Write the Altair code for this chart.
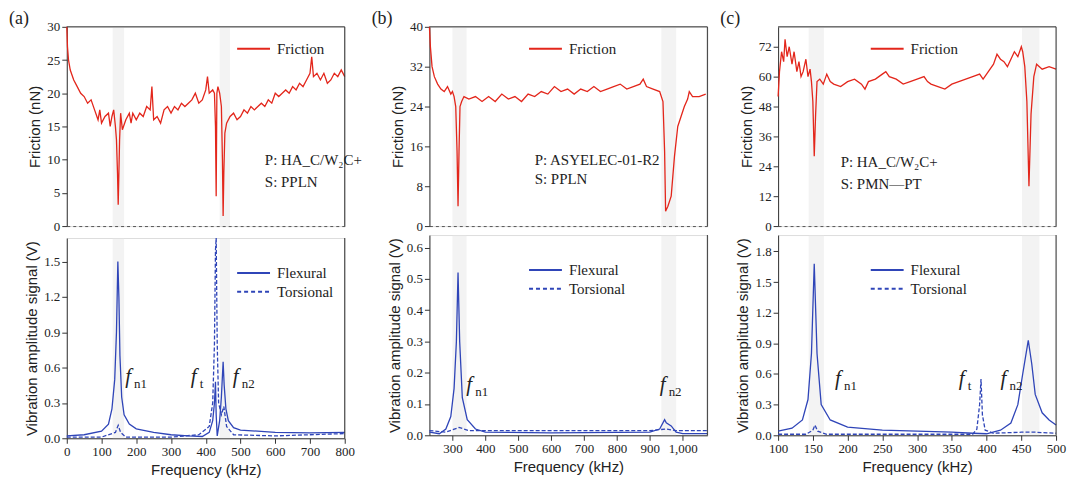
import altair as alt
import pandas as pd

RED = "#e3261b"
BLUE = "#2f45b8"
SERIF = "Liberation Serif"
SANS = "Liberation Sans"
W, HT, HB = 279, 200, 201

# ---- panel (a) ----
a_fx = [0, 2, 5, 10, 20, 30, 40, 50, 60, 70, 80, 90, 95, 100, 110, 120, 125, 130, 135, 140, 143, 146, 148, 150, 152, 155,
        160, 170, 180, 185, 190, 200, 210, 220, 230, 240, 245, 250, 260, 270, 280, 290, 300, 310, 320, 330, 340, 350, 360,
        370, 380, 390, 400, 405, 410, 420, 425, 428, 430, 432, 435, 440, 445, 448, 450, 452, 455, 460, 470, 480, 490, 500,
        510, 520, 530, 540, 550, 560, 570, 580, 590, 600, 610, 620, 630, 640, 650, 660, 670, 680, 690, 700, 705, 710, 720,
        730, 740, 750, 760, 770, 780, 790, 800]
a_fy = [30, 27, 25, 23.5, 22, 21, 20, 19.5, 18.5, 19, 17.5, 16, 17.5, 15.5, 16.5, 17, 15, 16.5, 17.5, 15, 13, 8, 3.2, 8, 13, 17,
        14.5, 16, 17, 15.5, 17, 16, 17, 16.5, 18, 17.5, 21, 16, 16.5, 15.5, 17.5, 18, 17, 18, 17.5, 18.5, 18, 18.5, 19,
        20, 18.5, 19, 20.5, 22.5, 20, 20.5, 20, 15, 4.5, 20, 21, 20, 18, 10, 1.5, 8, 14, 15.5, 16.5, 17, 16, 16.5,
        17.5, 17, 18, 17.5, 18, 18.5, 18, 19, 18.5, 20, 19.5, 20, 20.5, 20, 21, 20.5, 21.5, 21, 22, 23, 25.5, 22.5, 23,
        22, 23, 21.5, 22, 23, 22.5, 23.5, 22.5]
a_flx = [0, 50, 100, 120, 130, 138, 143, 147, 150, 153, 158, 165, 180, 200, 250, 300, 350, 390, 410, 420, 425, 428, 430, 433,
         440, 445, 450, 453, 458, 465, 480, 500, 600, 700, 800]
a_fly = [0.02, 0.03, 0.06, 0.12, 0.25, 0.5, 0.9, 1.5, 1.2, 0.7, 0.35, 0.2, 0.12, 0.08, 0.05, 0.03, 0.02, 0.015, 0.05, 0.15,
         0.3, 0.48, 0.2, 0.02, 0.15, 0.35, 0.65, 0.45, 0.25, 0.15, 0.09, 0.07, 0.05, 0.045, 0.05]
a_tox = [0, 100, 140, 148, 155, 170, 300, 380, 410, 420, 425, 428, 430, 433, 437, 445, 452, 460, 480, 600, 800]
a_toy = [0.01, 0.01, 0.05, 0.11, 0.05, 0.01, 0.01, 0.03, 0.1, 0.3, 0.8, 1.6, 1.7, 0.8, 0.3, 0.2, 0.27, 0.1, 0.03, 0.02, 0.04]
a_bands = [(132, 165), (440, 470)]

# ---- panel (b) ----
b_fx = [230, 233, 238, 245, 255, 265, 275, 285, 295, 300, 305, 310, 314, 317, 320, 323, 328, 335, 350, 370, 390, 410, 430,
        450, 470, 490, 510, 530, 550, 570, 590, 610, 630, 650, 670, 690, 710, 730, 750, 770, 790, 810, 830, 850, 870, 880,
        890, 910, 930, 940, 945, 948, 955, 965, 975, 985, 995, 1005, 1015, 1020, 1030, 1050, 1070]
b_fy = [40, 36, 32, 30, 28.5, 27.5, 27, 28, 26.5, 27, 26, 24, 15, 4, 15, 24, 25, 26, 25.5, 26, 25, 26, 25,
        26.5, 25.5, 26, 25, 26.5, 26, 27, 26.5, 28, 27, 27.5, 26.5, 27.5, 27, 28, 27, 27.5, 28, 28.5, 27.5, 28, 28.5, 29.5,
        28, 27.5, 27, 25, 15, 3, 4, 6, 14, 20, 22, 24, 25.5, 27, 26, 26, 26.5]
b_flx = [230, 260, 280, 295, 305, 312, 317, 322, 330, 345, 370, 400, 600, 900, 930, 945, 950, 965, 980, 1000, 1075]
b_fly = [0.01, 0.005, 0.02, 0.06, 0.15, 0.3, 0.52, 0.3, 0.12, 0.05, 0.02, 0.01, 0.008, 0.01, 0.02, 0.05, 0.04, 0.03, 0.01,
         0.005, 0.005]
b_tox = [230, 280, 320, 350, 600, 900, 950, 980, 1075]
b_toy = [0.015, 0.01, 0.025, 0.015, 0.015, 0.015, 0.02, 0.015, 0.015]
b_bands = [(300, 343), (935, 980)]

# ---- panel (c) ----
c_fx = [100, 102, 105, 108, 110, 113, 116, 120, 123, 127, 130, 133, 136, 140, 143, 146, 148, 150, 152, 154, 156, 160, 165,
        170, 175, 180, 190, 200, 210, 220, 225, 230, 240, 250, 255, 260, 270, 280, 290, 300, 310, 315, 320, 330, 340, 350,
        360, 370, 380, 390, 395, 400, 410, 415, 420, 425, 430, 435, 440, 445, 450, 452, 455, 458, 461, 464, 468, 472, 480,
        490, 500]
c_fy = [52, 62, 70, 66, 75, 68, 72, 65, 70, 62, 66, 60, 62, 67, 60, 63, 58, 50, 28, 45, 58, 59, 57,
        61, 58, 57, 56, 58, 59, 57, 55, 58, 59, 61, 62, 60, 59, 57, 58, 59, 60, 58, 57, 56, 55, 57,
        58, 59, 60, 61, 59, 61, 65, 69, 67, 66, 64, 67, 70, 68, 72, 70, 64, 50, 16, 45, 60, 65, 63,
        64, 63]
c_flx = [100, 120, 135, 143, 148, 152, 156, 162, 175, 200, 250, 300, 350, 380, 400, 420, 435, 445, 452, 460, 465, 470, 480,
         490, 500]
c_fly = [0.04, 0.07, 0.15, 0.35, 0.8, 1.68, 0.8, 0.3, 0.15, 0.08, 0.05, 0.04, 0.03, 0.02, 0.015, 0.05, 0.12, 0.3, 0.6, 0.93,
         0.7, 0.4, 0.22, 0.15, 0.1]
c_tox = [100, 140, 150, 153, 157, 170, 380, 386, 390, 392, 394, 398, 410, 450, 470, 500]
c_toy = [0.01, 0.01, 0.05, 0.1, 0.04, 0.01, 0.01, 0.06, 0.3, 0.55, 0.2, 0.05, 0.02, 0.03, 0.03, 0.02]
c_bands = [(144, 166), (451, 476)]


def panel(label, xdom, xticks, xfmt, fdom, fticks, fx, fy, vdom, vticks, flx, fly, tox, toy, bands,
          ps, ps_x, ps_y, notes, leg_x):
    one = pd.DataFrame({"a": [0]})
    bdf = pd.DataFrame({"x": [b[0] for b in bands], "x2": [b[1] for b in bands]})
    xsc = alt.Scale(domain=xdom, nice=False, zero=False)
    common = dict(labelFont=SERIF, labelFontSize=13, titleFont=SANS, titleFontSize=15, titleFontWeight="normal",
                  domainColor="#333", tickColor="#333", labelColor="#222", titleColor="#222", grid=False,
                  labelOverlap=False)
    # top panel axes
    tX = alt.X("x:Q", scale=xsc, axis=alt.Axis(labels=False, ticks=False, title=None, domainDash=[3, 3],
                                               domainColor="#555", grid=False))
    tY = alt.Y("y:Q", scale=alt.Scale(domain=fdom, nice=False),
               axis=alt.Axis(values=fticks, title="Friction (nN)", titlePadding=4, **common))
    # bottom panel axes
    bX = alt.X("x:Q", scale=xsc, axis=alt.Axis(values=xticks, format=xfmt, title="Frequency (kHz)",
                                               labelFlush=False, **common))
    bY = alt.Y("y:Q", scale=alt.Scale(domain=vdom, nice=False),
               axis=alt.Axis(values=vticks, title="Vibration amplitude signal (V)", titlePadding=4, **common))

    def band(X, h):
        return alt.Chart(bdf).mark_rect(color="#e4e4e4", opacity=0.45).encode(
            x=X, x2="x2:Q", y=alt.value(0), y2=alt.value(h))

    def right(h):
        return alt.Chart(one).mark_rule(color="#333").encode(x=alt.value(W), y=alt.value(0), y2=alt.value(h))

    fr = alt.Chart(pd.DataFrame({"x": fx, "y": fy})).mark_line(color=RED, strokeWidth=1.3).encode(x=tX, y=tY)
    topline = alt.Chart(one).mark_rule(color="#333").encode(x=alt.value(0), x2=alt.value(W), y=alt.value(0))
    leg = pd.DataFrame({"t": ["Friction"]})
    fleg = (alt.Chart(leg).mark_rule(color=RED, strokeWidth=2).encode(
                x=alt.value(leg_x), x2=alt.value(leg_x + 33), y=alt.value(22))
            + alt.Chart(leg).mark_text(font=SERIF, fontSize=15, align="left", color="#222").encode(
                x=alt.value(leg_x + 40), y=alt.value(22), text="t:N"))
    psdf = pd.DataFrame({"x": [ps_x, ps_x], "y": ps_y, "t": ps})
    pst = alt.Chart(psdf).mark_text(font=SERIF, fontSize=15, align="left", color="#222").encode(
        x=tX, y=tY, text="t:N")
    lab = alt.Chart(pd.DataFrame({"t": [label]})).mark_text(font=SERIF, fontSize=18, align="left",
                                                            color="#222").encode(
        x=alt.value(-58), y=alt.value(-8), text="t:N")
    top = alt.layer(band(tX, HT), fr, topline, right(HT), fleg, pst, lab).properties(width=W, height=HT)

    vl = alt.Chart(pd.DataFrame({"x": flx, "y": fly})).mark_line(color=BLUE, strokeWidth=1.3).encode(x=bX, y=bY)
    vt = alt.Chart(pd.DataFrame({"x": tox, "y": toy})).mark_line(
        color=BLUE, strokeWidth=1.3, strokeDash=[4, 2]).encode(x=bX, y=bY)
    lg2 = pd.DataFrame({"t": ["Flexural", "Torsional"], "y": [35, 54]})
    vleg = (alt.Chart(lg2.iloc[:1]).mark_rule(color=BLUE, strokeWidth=2).encode(
                x=alt.value(leg_x), x2=alt.value(leg_x + 33), y=alt.value(35))
            + alt.Chart(lg2.iloc[1:]).mark_rule(color=BLUE, strokeWidth=2, strokeDash=[4, 3]).encode(
                x=alt.value(leg_x), x2=alt.value(leg_x + 33), y=alt.value(54))
            + alt.Chart(lg2).mark_text(font=SERIF, fontSize=15, align="left", color="#222").encode(
                x=alt.value(leg_x + 40), y=alt.Y("y:Q", scale=None), text="t:N"))
    ndf = pd.DataFrame({"x": [n[0] for n in notes], "y": [n[1] for n in notes], "s": [n[2] for n in notes],
                        "f": ["f"] * len(notes)})
    nf = alt.Chart(ndf).mark_text(font=SERIF, fontSize=21, fontStyle="italic", align="left", color="#222").encode(
        x=bX, y=bY, text="f:N")
    ns = alt.Chart(ndf).mark_text(font=SERIF, fontSize=13, align="left", dx=9, dy=7, color="#222").encode(
        x=bX, y=bY, text="s:N")
    bot = alt.layer(band(bX, HB), vl, vt, right(HB), vleg, nf, ns).properties(width=W, height=HB)
    return alt.vconcat(top, bot, spacing=0)


pa = panel("(a)", [0, 800], list(range(0, 801, 100)), "d", [0, 30], [0, 5, 10, 15, 20, 25, 30],
           a_fx, a_fy, [0, 1.7], [0, 0.3, 0.6, 0.9, 1.2, 1.5], a_flx, a_fly, a_tox, a_toy, a_bands,
           ["P: HA_C/W₂C+", "S: PPLN"], 570, [9.9, 6.7],
           [(168, 0.52, "n1"), (357, 0.52, "t"), (478, 0.52, "n2")], 171)
pb = panel("(b)", [230, 1075], list(range(300, 1001, 100)), ",d", [0, 40], [0, 8, 16, 24, 32, 40],
           b_fx, b_fy, [0, 0.64], [0, 0.1, 0.2, 0.3, 0.4, 0.5, 0.6], b_flx, b_fly, b_tox, b_toy, b_bands,
           ["P: ASYELEC-01-R2", "S: PPLN"], 550, [13.2, 9.5],
           [(342, 0.16, "n1"), (930, 0.16, "n2")], 100)
pc = panel("(c)", [100, 500], list(range(100, 501, 50)), "d", [0, 80], [0, 12, 24, 36, 48, 60, 72],
           c_fx, c_fy, [0, 1.96], [0, 0.3, 0.6, 0.9, 1.2, 1.5, 1.8], c_flx, c_fly, c_tox, c_toy, c_bands,
           ["P: HA_C/W₂C+", "S: PMN—PT"], 190, [25.6, 17],
           [(182, 0.55, "n1"), (360, 0.55, "t"), (420, 0.55, "n2")], 93)

chart = (alt.hconcat(pa, pb, pc, spacing=8).configure_view(stroke=None)
         .configure(background="white", padding={"left": 0, "top": 0, "right": 5, "bottom": 5}))
chart.save("out.html", embed_options={"renderer": "svg", "actions": False})
